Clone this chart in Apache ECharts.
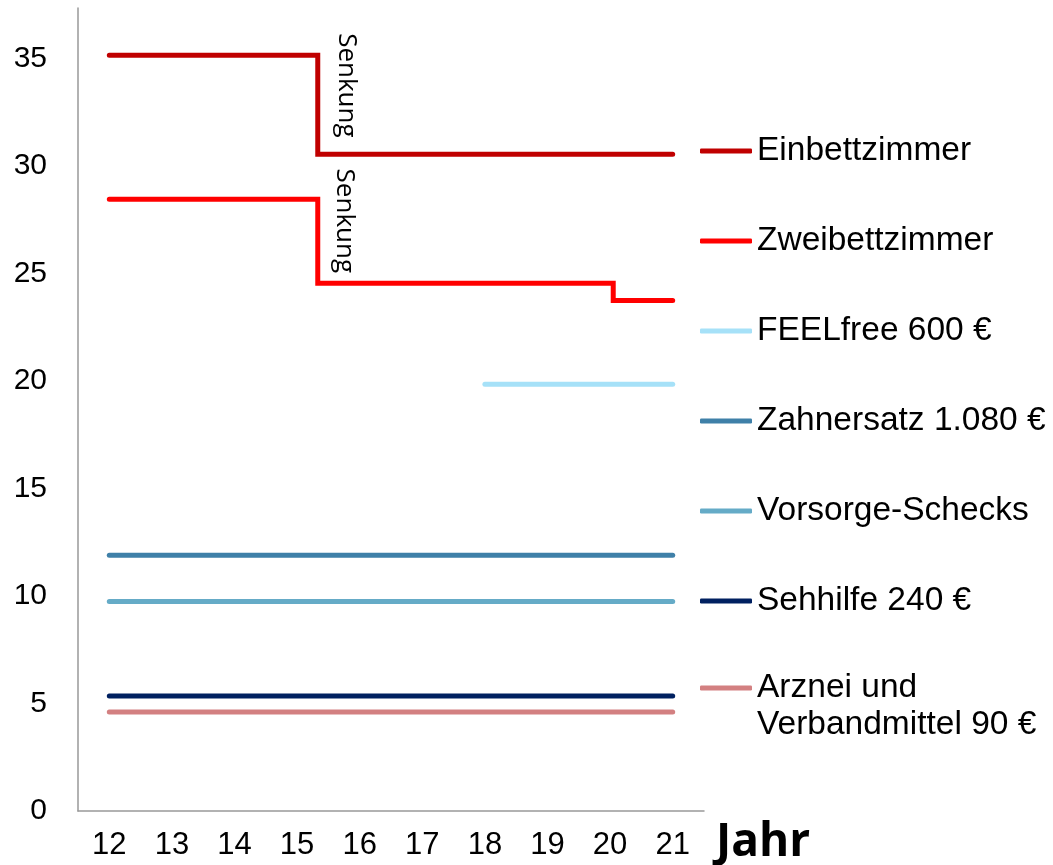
<!DOCTYPE html>
<html>
<head>
<meta charset="utf-8" />
<title>Tarifentwicklung</title>
<script src="https://cdn.jsdelivr.net/npm/echarts@6/dist/echarts.min.js"></script>
<style>
  html, body { margin: 0; padding: 0; background: #fff; }
  #chart { width: 1053px; height: 865px; }
</style>
</head>
<body>
<div id="chart"></div>
<script>
// Jahre (x) und Beiträge (y) je Tarif, Stufen am Punkt der Änderung
var names = ['Einbettzimmer', 'Zweibettzimmer', 'FEELfree 600 €', 'Zahnersatz 1.080 €',
             'Vorsorge-Schecks', 'Sehhilfe 240 €', 'Arznei und Verbandmittel 90 €'];
var colors = ['#C00000', '#FF0000', '#A6E1F8', '#3F80A8', '#65ABC7', '#002060', '#D38081'];

var einbettX = [12, 15.33, 21];
var einbettY = [35.15, 30.55, 30.55];
var zweibettX = [12, 15.33, 20.05, 21];
var zweibettY = [28.45, 24.55, 23.75, 23.75];
var feelX = [18, 21];
var feelY = [19.85, 19.85];
var zahnX = [12, 21];
var zahnY = [11.9, 11.9];
var vorsorgeX = [12, 21];
var vorsorgeY = [9.75, 9.75];
var sehX = [12, 21];
var sehY = [5.35, 5.35];
var arzneiX = [12, 21];
var arzneiY = [4.6, 4.6];

var yTicks = [0, 5, 10, 15, 20, 25, 30, 35];
var xTicks = [12, 13, 14, 15, 16, 17, 18, 19, 20, 21];

// Beschriftung "Senkung" an den Stufen
var senkung = [[15.78, 33.75], [15.76, 27.45]];

function pairs(xs, ys) {
  return xs.map(function (x, i) { return [x, ys[i]]; });
}

var allX = [einbettX, zweibettX, feelX, zahnX, vorsorgeX, sehX, arzneiX];
var allY = [einbettY, zweibettY, feelY, zahnY, vorsorgeY, sehY, arzneiY];

var series = names.map(function (n, i) {
  var s = {
    name: n,
    type: 'line',
    step: 'end',
    data: pairs(allX[i], allY[i]),
    showSymbol: false,
    symbol: 'none',
    color: colors[i],
    lineStyle: { width: 5, color: colors[i], cap: 'round', join: 'miter' },
    z: 10 - i
  };
  if (i === 0) {
    s.markPoint = {
      symbol: 'circle',
      symbolSize: 0,
      label: {
        show: true,
        position: 'inside',
        rotate: -90,
        formatter: 'Senkung',
        fontFamily: 'Open Sans',
        fontSize: 26,
        color: '#000'
      },
      data: senkung.map(function (c) { return { coord: c }; })
    };
  }
  return s;
});

var legendFont = 'Liberation Sans, Arial, sans-serif';

var chart = echarts.init(document.getElementById('chart'));
chart.setOption({
  animation: false,
  backgroundColor: '#fff',
  grid: { left: 78, right: 349, top: 8, bottom: 54, containLabel: false, outerBoundsMode: 'none' },
  legend: [{
    orient: 'vertical',
    left: 700,
    top: 134,
    padding: 0,
    itemWidth: 52,
    itemHeight: 5,
    itemGap: 56,
    icon: 'roundRect',
    selectedMode: false,
    data: names.slice(0, 6),
    textStyle: { fontFamily: legendFont, fontSize: 33.5, color: '#000', lineHeight: 32 }
  }, {
    orient: 'vertical',
    left: 700,
    top: 632.5,
    padding: 0,
    itemWidth: 52,
    itemHeight: 5,
    icon: 'roundRect',
    selectedMode: false,
    data: names.slice(6),
    formatter: function (n) { return '\n' + n.replace(' und ', ' und\n'); },
    textStyle: { fontFamily: legendFont, fontSize: 33.5, color: '#000', lineHeight: 37 }
  }],
  xAxis: {
    type: 'value',
    min: 11.5,
    max: 21.5,
    interval: 0.5,
    name: 'Jahr',
    nameLocation: 'end',
    nameGap: 12,
    nameTextStyle: {
      fontFamily: 'Open Sans',
      fontWeight: 'bold',
      fontSize: 46,
      color: '#000',
      verticalAlign: 'top',
      padding: [9, 0, 0, 0]
    },
    splitLine: { show: false },
    axisTick: { show: false },
    axisLine: { lineStyle: { color: '#999', width: 1.5 } },
    axisLabel: {
      margin: 19,
      fontFamily: legendFont,
      fontSize: 31,
      color: '#000',
      showMinLabel: false,
      showMaxLabel: false,
      hideOverlap: false,
      interval: 0,
      formatter: function (v) { return xTicks.indexOf(v) >= 0 ? String(v) : ''; }
    }
  },
  yAxis: {
    type: 'value',
    min: 0,
    max: 37.35,
    interval: 5,
    splitLine: { show: false },
    axisTick: { show: false },
    axisLine: { show: true, lineStyle: { color: '#999', width: 1.5 } },
    axisLabel: {
      margin: 31,
      fontFamily: legendFont,
      fontSize: 30,
      color: '#000',
      showMaxLabel: false,
      formatter: function (v) { return yTicks.indexOf(v) >= 0 ? String(v) : ''; }
    }
  },
  series: series
});
</script>
</body>
</html>
